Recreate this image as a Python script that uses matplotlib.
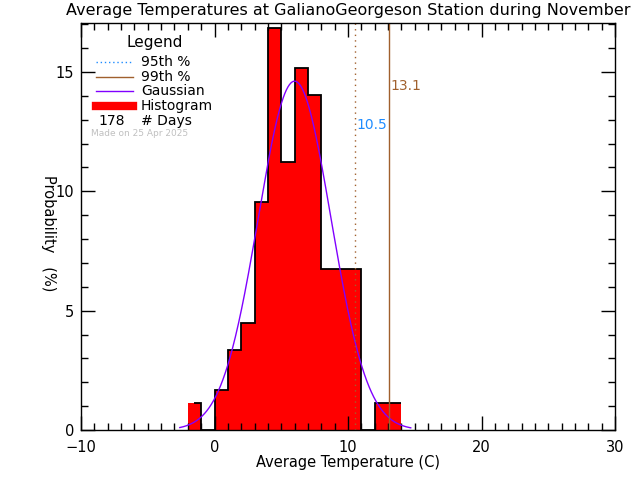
import numpy as np
import matplotlib
matplotlib.use('Agg')
import matplotlib.pyplot as plt
from matplotlib.ticker import MultipleLocator

# histogram of daily mean temperatures, 1 C bins
bin_edges = [-2, -1, 0, 1, 2, 3, 4, 5, 6, 7, 8, 9, 10, 11, 12, 13, 14]
day_counts = [2, 0, 3, 6, 8, 17, 30, 20, 27, 25, 12, 12, 12, 0, 2, 2]
n_days = 178

# gaussian fit parameters and percentiles
gauss_mean = 6.0
gauss_sigma = 2.73
gauss_range = (-2.6, 14.7)
p95 = 10.5
p99 = 13.1

red = '#ff0000'
purple = '#8000ff'
brown = '#a0602d'
blue = '#1e8cff'

prob = np.array(day_counts) / n_days * 100.0
edges = np.array(bin_edges, dtype=float)

# axes box in pixels (left, top, right, bottom)
L, T, R, B = 81, 23, 615, 430

fig = plt.figure(figsize=(6.4, 4.8), dpi=100)
ax = fig.add_axes([L/640, 1 - B/480, (R - L)/640, (B - T)/480])

# filled bars and black step outline
ax.stairs(prob, edges, fill=True, color=red, linewidth=0)
outline_edges = edges.copy()
outline_edges[0] = -1.5
ax.stairs(prob, outline_edges, baseline=None, color='black', linewidth=1.3)

# gaussian curve
gx = np.linspace(gauss_range[0], gauss_range[1], 300)
gy = 100.0 / (gauss_sigma * np.sqrt(2 * np.pi)) * np.exp(-0.5 * ((gx - gauss_mean) / gauss_sigma) ** 2)
ax.plot(gx, gy, color=purple, linewidth=1)

# percentile lines
ax.axvline(p95, color=brown, linestyle=(0, (1, 3)), linewidth=1)
ax.axvline(p99, color=brown, linewidth=1)
ax.text(p95 + 0.1, 12.76, f'{p95:.1f}', color=blue, fontsize=10, va='center', ha='left')
ax.text(p99 + 0.1, 14.4, f'{p99:.1f}', color=brown, fontsize=10, va='center', ha='left')

ax.set_xlim(-10, 30)
ax.set_ylim(0, 17.05)
ax.xaxis.set_major_locator(MultipleLocator(10))
ax.xaxis.set_minor_locator(MultipleLocator(1))
ax.yaxis.set_major_locator(MultipleLocator(5))
ax.yaxis.set_minor_locator(MultipleLocator(1))
ax.tick_params(which='both', direction='in', top=True, right=True, labelsize=10.5, width=1)
ax.tick_params(which='major', length=10)
ax.tick_params(which='minor', length=5)
ax.tick_params(axis='x', which='both', pad=7)
ax.tick_params(axis='y', which='both', pad=5)
for s in ax.spines.values():
    s.set_linewidth(1)

fig.text(348/640, 1 - 11/480, 'Average Temperatures at GalianoGeorgeson Station during November',
         fontsize=11.5, ha='center', va='center')
fig.text(348/640, 1 - 462/480, 'Average Temperature (C)', fontsize=10.5, ha='center', va='center')
fig.text(48/640, 1 - 233/480, 'Probability   (%)', rotation=270, fontsize=10.5, ha='center', va='center')

# legend drawn by hand
def fx(px):
    return (px - L) / (R - L)

def fy(py):
    return (B - py) / (B - T)

tr = ax.transAxes
ax.text(fx(155), fy(43), 'Legend', transform=tr, fontsize=11, ha='center', va='center')
rows = [('95th %', 62), ('99th %', 77), ('Gaussian', 91), ('Histogram', 106)]
styles = [dict(color=blue, linestyle=(0, (1, 2)), linewidth=1),
          dict(color=brown, linewidth=1),
          dict(color=purple, linewidth=1),
          dict(color=red, linewidth=6)]
for (label, py), st in zip(rows, styles):
    ax.plot([fx(96), fx(133)], [fy(py), fy(py)], transform=tr, clip_on=False, **st)
    ax.text(fx(141), fy(py), label, transform=tr, fontsize=10, va='center', ha='left')
ax.text(fx(112), fy(121), str(n_days), transform=tr, fontsize=10, va='center', ha='center')
ax.text(fx(141), fy(121), '# Days', transform=tr, fontsize=10, va='center', ha='left')
ax.text(fx(91), fy(134), 'Made on 25 Apr 2025', transform=tr, fontsize=6.5, color='#c0c0c0', va='center', ha='left')

fig.savefig('out.png', dpi=100)
